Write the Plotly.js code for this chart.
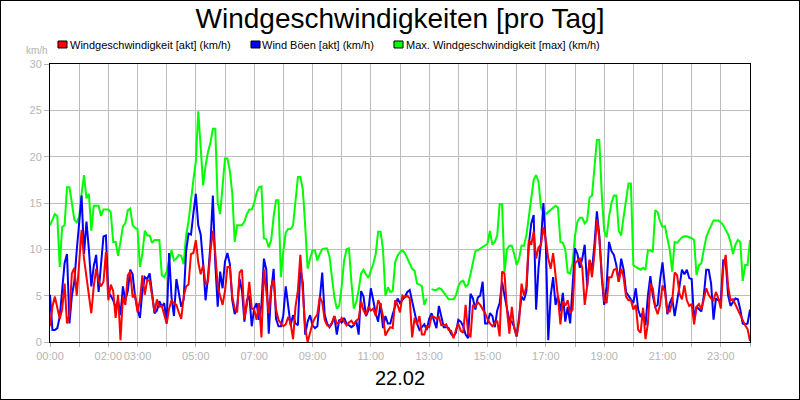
<!DOCTYPE html>
<html>
<head>
<meta charset="utf-8">
<script src="https://cdn.plot.ly/plotly-3.0.1.min.js"></script>
<style>
  html, body { margin: 0; padding: 0; background: #fff; }
  #wrap { position: relative; width: 800px; height: 400px; }
  #chart { width: 800px; height: 400px; }
  #wrap::after { content: ""; position: absolute; left: 0; top: 0; right: 0; bottom: 0;
    border: 1px solid #000; pointer-events: none; }
</style>
</head>
<body>
<div id="wrap"><div id="chart"></div></div>
<script>
// ---- data (5-minute readings, 22.02) ----
const dayLabel = "22.02";
const chartTitle = "Windgeschwindigkeiten [pro Tag]";
const unitLabel = "km/h";
const seriesNames = ["Windgeschwindigkeit [akt] (km/h)", "Wind Böen [akt] (km/h)", "Max. Windgeschwindigkeit [max] (km/h)"];
const seriesColors = ["#ff0000", "#0000ff", "#00ff00"];

const windAkt = [
  1.7, 3.8, 4.9, 3.5, 2.5, 3.5, 6.3, 2.0, 3.0, 7.4, 8.0, 5.0,
  9.0, 12.1, 9.0, 7.2, 5.0, 3.1, 6.0, 7.9, 6.6, 6.0, 6.5, 9.7,
  4.5, 6.2, 5.5, 2.6, 5.1, 0.2, 4.9, 4.0, 7.2, 7.6, 4.8, 5.2,
  3.2, 4.5, 7.2, 5.1, 6.7, 6.6, 5.0, 3.2, 4.6, 3.8, 3.9, 3.0,
  2.0, 3.6, 4.5, 4.2, 4.0, 3.2, 2.5, 4.9, 6.0, 6.2, 9.5, 9.6,
  11.0, 8.6, 7.3, 8.3, 6.3, 6.5, 9.8, 12.0, 9.6, 6.0, 4.9, 4.0,
  5.5, 8.1, 8.1, 4.9, 3.6, 3.2, 7.5, 7.8, 2.5, 4.0, 6.5, 3.6,
  3.5, 2.4, 4.2, 0.5, 7.8, 5.6, 3.1, 6.0, 6.7, 3.5, 2.4, 2.0,
  1.7, 1.9, 2.7, 2.0, 0.3, 3.8, 5.6, 9.4, 5.0, 1.5, 0.0, 0.9,
  2.0, 2.6, 3.0, 4.9, 4.3, 2.4, 1.8, 1.7, 2.1, 2.8, 2.0, 2.1,
  2.6, 2.2, 1.8, 2.1, 2.3, 1.9, 2.3, 2.5, 4.4, 3.4, 2.9, 3.8,
  3.4, 3.6, 2.8, 4.5, 4.0, 2.8, 0.7, 1.2, 1.6, 1.5, 4.5, 4.0,
  3.2, 5.0, 4.8, 5.0, 4.7, 0.5, 2.6, 1.9, 2.8, 0.8, 0.8, 1.7,
  1.6, 2.8, 2.7, 2.5, 2.7, 1.8, 1.8, 1.9, 1.3, 1.2, 0.4, 1.3,
  2.0, 1.2, 1.0, 4.0, 1.0, 0.5, 4.0, 3.8, 4.3, 4.0, 3.6, 3.1,
  2.5, 2.0, 1.7, 2.0, 2.3, 0.6, 7.6, 7.4, 3.5, 0.9, 3.8, 1.5,
  0.6, 2.2, 6.3, 5.0, 6.0, 11.0, 10.5, 11.9, 9.0, 10.2, 10.5, 12.4,
  11.0, 9.0, 7.9, 9.6, 7.5, 4.8, 1.9, 4.4, 3.9, 4.5, 3.1, 3.5,
  8.5, 8.8, 9.0, 8.0, 4.0, 6.0, 8.9, 7.0, 9.5, 13.2, 11.2, 7.5,
  4.5, 4.2, 7.0, 7.0, 7.8, 7.9, 6.5, 7.9, 7.0, 4.9, 4.5, 4.5,
  3.5, 4.0, 1.3, 1.0, 3.7, 0.3, 2.0, 6.3, 5.8, 3.8, 3.0, 4.0,
  6.1, 5.4, 3.3, 3.3, 4.4, 7.5, 7.2, 5.2, 4.6, 6.1, 4.5, 3.9,
  4.1, 1.9, 3.8, 4.1, 3.5, 4.6, 5.8, 5.1, 4.7, 4.5, 5.4, 4.7,
  3.6, 8.0, 9.4, 6.0, 4.5, 4.6, 4.0, 3.4, 3.0, 2.4, 1.8, 1.4,
  0.1
];

const boeenAkt = [
  5.1, 1.3, 1.3, 1.5, 2.7, 5.6, 8.5, 9.5, 2.0, 5.0, 6.5, 9.9,
  12.5, 15.8, 9.5, 13.0, 10.0, 6.0, 8.2, 9.4, 5.4, 8.5, 11.4, 11.5,
  5.3, 5.0, 4.5, 3.7, 4.5, 2.9, 6.0, 4.5, 5.5, 7.8, 7.3, 4.9,
  3.5, 2.6, 5.5, 7.0, 6.8, 7.4, 5.2, 3.1, 3.4, 4.4, 3.8, 4.2,
  2.0, 9.6, 4.8, 2.8, 6.8, 5.5, 3.8, 4.6, 9.8, 11.7, 11.6, 13.9,
  16.0, 12.6, 11.6, 8.5, 4.5, 7.0, 10.5, 15.8, 8.5, 3.8, 7.6, 5.8,
  8.7, 9.6, 8.4, 4.5, 3.0, 3.8, 6.8, 5.5, 2.2, 4.5, 5.0, 1.7,
  3.6, 4.2, 2.4, 4.0, 9.0, 7.8, 0.9, 5.5, 7.9, 2.5, 1.7, 1.7,
  2.9, 6.0, 3.6, 1.8, 2.9, 2.0, 1.8, 8.0, 6.4, 0.8, 2.2, 2.9,
  1.8, 1.5, 1.7, 4.3, 7.5, 3.0, 2.0, 1.6, 2.0, 2.8, 0.8, 2.4,
  2.1, 2.6, 2.0, 1.8, 1.6, 1.8, 2.3, 0.8, 5.5, 4.9, 2.8, 3.4,
  5.8, 4.5, 3.1, 2.2, 4.2, 1.5, 2.8, 2.0, 2.0, 3.0, 3.8, 4.7,
  4.2, 4.5, 4.9, 5.4, 5.6, 4.4, 3.0, 2.0, 1.3, 1.6, 1.9, 1.3,
  2.5, 3.1, 2.2, 1.5, 3.9, 2.6, 1.6, 1.6, 1.5, 0.9, 0.6, 1.0,
  2.4, 2.2, 1.7, 0.8, 0.4, 5.2, 4.7, 3.5, 4.8, 5.0, 6.5, 2.0,
  2.0, 3.1, 2.8, 1.6, 3.4, 4.2, 6.5, 5.0, 3.6, 2.3, 2.2, 1.6,
  0.6, 2.5, 4.9, 4.5, 5.5, 10.5, 12.8, 13.7, 3.5, 8.0, 10.8, 15.0,
  10.5, 0.2, 5.0, 7.0, 4.0, 5.0, 3.3, 5.3, 2.2, 3.8, 2.0, 6.0,
  10.1, 9.5, 8.0, 9.0, 10.5, 6.0, 8.8, 7.8, 10.5, 14.1, 11.5, 7.0,
  4.0, 6.0, 10.8, 9.8, 9.4, 8.3, 6.5, 9.0, 7.8, 5.4, 5.0, 4.7,
  4.2, 5.8, 3.5, 2.7, 3.2, 1.8, 5.0, 7.1, 5.0, 3.8, 4.0, 6.7,
  8.6, 6.0, 3.0, 4.2, 4.8, 2.8, 4.2, 6.0, 7.8, 7.3, 7.8, 6.9,
  6.8, 2.4, 3.8, 3.5, 3.3, 5.0, 7.8, 7.8, 6.3, 2.4, 4.7, 4.5,
  4.5, 8.8, 8.7, 5.0, 3.9, 4.3, 4.7, 4.6, 3.5, 2.0, 1.9, 2.0,
  3.5
];

const windMax = [
  12.6, 13.2, 13.8, 13.6, 8.1, 12.4, 12.6, 16.7, 16.7, 15.0, 13.2, 12.9,
  13.5, 16.0, 18.0, 15.5, 16.0, 12.0, 14.7, 14.7, 14.7, 13.6, 14.3, 14.3,
  14.3, 14.0, 10.8, 10.8, 9.3, 10.8, 12.5, 12.8, 14.2, 14.4, 12.6, 12.3,
  12.2, 8.1, 9.5, 12.0, 11.5, 11.5, 10.7, 11.0, 11.0, 11.0, 7.2, 7.0,
  7.6, 8.6, 9.9, 8.8, 9.0, 9.4, 9.3, 8.4, 11.5, 13.0, 15.5, 17.5,
  19.5, 24.9, 21.0, 16.9, 19.0, 20.5, 21.5, 23.0, 23.0, 15.0, 13.8, 16.5,
  19.8, 19.8, 18.5, 16.0, 10.8, 12.6, 12.6, 12.6, 13.0, 13.8, 14.3, 14.3,
  15.0, 16.1, 16.7, 16.8, 11.2, 11.1, 10.2, 11.0, 13.5, 15.3, 15.3, 7.0,
  9.8, 11.8, 12.2, 12.2, 12.6, 15.5, 17.8, 17.8, 16.5, 12.5, 7.9, 9.0,
  9.9, 9.9, 8.8, 9.5, 10.0, 10.1, 10.1, 9.2, 7.0, 4.8, 3.6, 3.9,
  6.0, 8.8, 10.0, 10.1, 6.5, 3.6, 4.3, 5.6, 7.4, 7.8, 7.3, 6.9,
  7.7, 8.4, 9.5, 11.9, 11.9, 10.0, 5.0, 5.9, 5.4, 5.5, 8.6, 9.3,
  9.7, 9.9, 9.6, 9.0, 8.4, 7.9, 7.7, 6.3, 6.2, 6.0, 4.0, 4.7,
  null, 5.7, 5.6, 5.6, 5.8, 5.7, 5.3, 4.9, 4.6, 4.6, 4.6, 5.0,
  6.0, 6.5, 6.6, 6.0, 6.2, 7.3, 8.5, 9.8, 9.9, 10.1, 10.3, 10.5,
  10.6, 12.0, 10.5, 10.8, 11.5, 14.9, 14.9, 7.5, 10.0, 10.4, 10.4, 9.5,
  8.3, 9.0, 10.4, 10.4, 11.5, 13.5, 15.5, 17.5, 18.0, 17.3, 14.5, 14.0,
  13.8, 14.0, 14.2, 14.5, 14.7, 14.5, 10.8, 10.7, 10.0, 7.5, 7.4, 8.5,
  11.5, 13.0, 13.4, 13.4, 12.8, 13.1, 15.6, 15.8, 19.0, 21.8, 21.8, 16.0,
  12.0, 11.3, 13.5, 15.0, 15.8, 15.8, 12.0, 11.5, 13.5, 15.5, 17.1, 17.1,
  8.3, 8.1, 7.9, 7.8, 8.0, 7.8, 9.9, 9.9, 9.7, 14.2, 14.0, 13.0,
  12.4, 12.5, 11.2, 9.9, 7.6, 10.8, 10.7, 11.0, 11.3, 11.4, 11.4, 11.3,
  11.2, 11.0, 7.2, 8.3, 8.5, 10.0, 11.3, 12.0, 12.6, 13.1, 13.1, 13.1,
  12.9, 12.6, 12.1, 11.6, 10.8, 9.5, 10.5, 11.0, 10.8, 6.6, 8.3, 8.3,
  11.0
];

const hourTickLabels = ["00:00", "", "02:00", "03:00", "", "05:00", "", "07:00", "", "09:00", "", "11:00", "",
  "13:00", "", "15:00", "", "17:00", "", "19:00", "", "21:00", "", "23:00", ""];
const yTickValues = [0, 5, 10, 15, 20, 25, 30];

// ---- build time stamps (every 5 minutes) ----
function pad(n) { return (n < 10 ? "0" : "") + n; }
function stamp(mins) {
  const day = mins >= 1440 ? "2025-02-23" : "2025-02-22";
  const m = mins % 1440;
  return day + " " + pad(Math.floor(m / 60)) + ":" + pad(m % 60);
}
const times = windAkt.map((_, i) => stamp(i * 5));
const hourTicks = hourTickLabels.map((_, h) => stamp(h * 60));

const font = "Liberation Sans, Arial, sans-serif";
const gray = "#b4b4b4";
const grid = "#bdbdbd";

const traces = [
  { x: times, y: windMax, name: seriesNames[2], type: "scatter", mode: "lines",
    line: { color: seriesColors[2], width: 2 }, connectgaps: false, showlegend: false, hoverinfo: "skip" },
  { x: times, y: boeenAkt, name: seriesNames[1], type: "scatter", mode: "lines",
    line: { color: seriesColors[1], width: 2 }, showlegend: false, hoverinfo: "skip" },
  { x: times, y: windAkt, name: seriesNames[0], type: "scatter", mode: "lines",
    line: { color: seriesColors[0], width: 2 }, showlegend: false, hoverinfo: "skip" }
];

// legend drawn as small boxes + text
const legendX = [0.025, 0.3, 0.505];   // text starts (paper)
const legendBoxX = [0.0114, 0.2871, 0.4914];
const annotations = [];
const shapes = [];
seriesNames.forEach((n, i) => {
  annotations.push({ xref: "paper", yref: "paper", x: legendX[i], y: 1.068, xanchor: "left", yanchor: "middle",
    text: n, showarrow: false, font: { family: font, size: 11, color: "#000" } });
  shapes.push({ type: "rect", xref: "paper", yref: "paper", x0: legendBoxX[i], x1: legendBoxX[i] + 0.0129,
    y0: 1.0576, y1: 1.0827, fillcolor: seriesColors[i], line: { color: "#000", width: 1 } });
});
annotations.push({ xref: "paper", yref: "paper", x: -0.018, y: 1.05, xanchor: "center", yanchor: "middle",
  text: unitLabel, showarrow: false, font: { family: font, size: 10, color: gray } });
annotations.push({ xref: "paper", yref: "paper", x: 0.5, y: -0.13, xanchor: "center", yanchor: "middle",
  text: dayLabel, showarrow: false, font: { family: font, size: 20, color: "#000" } });

const layout = {
  width: 800, height: 400,
  paper_bgcolor: "#ffffff", plot_bgcolor: "#ffffff",
  margin: { l: 50, r: 50, t: 64, b: 58, pad: 0 },
  title: { text: chartTitle, x: 0.5, xanchor: "center", xref: "paper", y: 0.955, yref: "container", yanchor: "middle",
    font: { family: font, size: 28, color: "#000" } },
  showlegend: false,
  xaxis: {
    type: "date", range: [hourTicks[0], hourTicks[24]], autorange: false,
    tickmode: "array", tickvals: hourTicks, ticktext: hourTickLabels, tickangle: 0,
    ticks: "outside", ticklen: 4, tickcolor: gray, tickwidth: 1,
    tickfont: { family: font, size: 11, color: gray },
    showgrid: true, gridcolor: grid, gridwidth: 1, zeroline: false,
    showline: true, linecolor: "#000", linewidth: 1, mirror: true, fixedrange: true
  },
  yaxis: {
    range: [0, 30], autorange: false, tickmode: "array", tickvals: yTickValues,
    ticks: "outside", ticklen: 5, tickcolor: gray, tickwidth: 1,
    tickfont: { family: font, size: 11, color: gray },
    showgrid: true, gridcolor: grid, gridwidth: 1, zeroline: false,
    showline: true, linecolor: "#000", linewidth: 1, mirror: true, fixedrange: true
  },
  annotations: annotations,
  shapes: shapes
};

Plotly.newPlot("chart", traces, layout, { displayModeBar: false, staticPlot: true });
</script>
</body>
</html>
